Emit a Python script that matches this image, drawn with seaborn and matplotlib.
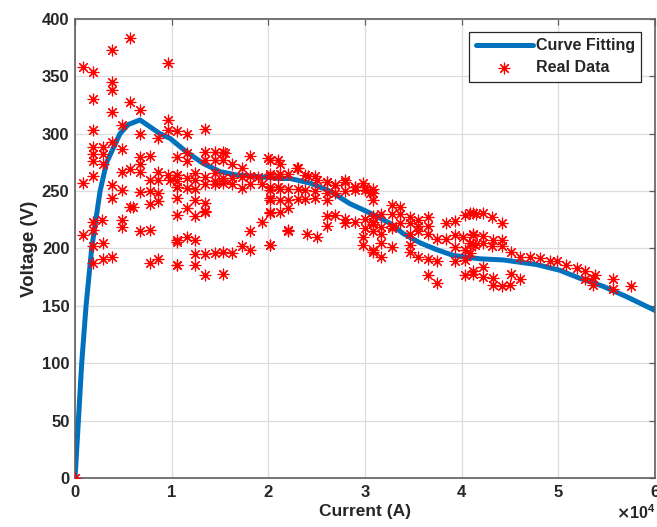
import matplotlib
matplotlib.use("Agg")
import matplotlib.pyplot as plt
import seaborn as sns

# ---- Fitted curve ----
fit_current = [0, 350, 690, 1140, 1720, 2590, 3270, 4650, 5500, 6720, 8790, 9820,
               11550, 13270, 14990, 16720, 18440, 21200, 22230, 24300, 26370, 28440,
               30500, 32570, 33950, 35670, 37400, 39120, 41880, 44290, 47740, 50150,
               52220, 54630, 57050, 60000]
fit_voltage = [0, 50, 100, 150, 200, 250, 275, 300, 308, 312, 300, 296,
               284, 274, 267, 264, 263, 261, 261, 257, 250, 239,
               231, 222, 213, 205, 199, 194, 191, 190, 186, 181,
               174, 167, 158, 146]

data_current = [
    0,
    5690, 3790, 860, 1890, 9580, 3790, 3790, 1890, 3790, 5690, 6720,
    4830, 9580, 1890, 6720, 9580, 10520, 8620, 3790, 4830,
    1890, 2930, 1890, 2930, 1890, 2930,
    860, 1890, 6720, 7760, 6720, 5690, 4830, 6720, 7760, 8620, 8620, 9580, 10520,
    3790, 4830, 3790, 6720, 7760, 8620, 7760, 8620, 10520, 5690, 6000,
    1890, 2760, 1890, 4830, 4830, 6720, 7760, 860, 1890, 2930, 10520,
    1890, 2930, 3790, 7760, 8620, 10520,
    11550, 13440,
    10520, 11550, 11550, 13440, 14480, 15330, 13440, 14480, 15330, 16200, 18100, 20160, 21020, 17240,
    10520, 12380, 14480,
    9820, 10520, 11550, 12410, 13440, 14480, 15330, 16200, 17240, 18100, 18950, 20160, 21020,
    10520, 11550, 12380, 13440, 14480, 15330, 16200, 17240, 18100, 19300, 20160, 21020,
    10520, 12380, 13440, 20160,
    11550, 13440,
    10520, 12380, 13440,
    20160, 19300, 18100,
    10520, 11550, 12380,
    20160, 17240, 18100,
    12380, 13440, 14480, 15330, 16200,
    10520, 12380,
    13440, 15330,
    15510, 19990, 22920, 24120, 24990, 26020, 26880, 27920, 28950, 29810, 30500,
    22050, 23960, 24990,
    21200, 23090,
    20160, 21200, 22050, 23780, 24820,
    26020, 26880, 27920, 28950, 29990, 30840,
    20160, 21200, 22050, 23090, 23780, 24820, 26020, 26880, 27920, 28950, 29990, 30840,
    20160, 21200, 22050, 23090, 23780, 24820, 26020,
    20160, 21200, 26020, 26880, 27920, 28950, 29990, 30840,
    22050,
    26020, 27920, 29990, 30840,
    22050,
    20160,
    29810, 29810, 30840,
    30840, 32750, 33600,
    31700, 32750, 33600, 34640, 35490, 36530,
    30840, 31700, 32750, 33600, 34640, 35490, 36530, 38420, 39290,
    40330, 41180,
    30840, 31700, 32750, 34640, 35490, 36530, 37400, 38420, 39290, 40160, 41180,
    31700, 32750, 34640, 39290, 40330, 41180,
    30840, 31700, 34640, 35490, 36530, 37400, 39290, 40330,
    36530, 37400,
    40330, 41180,
    40840, 41530, 42220, 43090, 44120,
    41180, 42220, 43250, 44120,
    40840, 41360, 42220, 43090, 44120,
    40840, 45150, 46010, 47050, 48080, 49120, 49810, 50840, 51880, 52730, 53770,
    41180, 42220, 42220, 43250, 43250, 44120, 44980, 45150, 46010,
    52730, 53590, 53590, 55660, 55660, 57560,
]
data_voltage = [
    0,
    383, 373, 358, 354, 362, 345, 338, 330, 319, 328, 321,
    308, 312, 303, 300, 303, 302, 296, 293, 287,
    288, 288, 282, 282, 276, 274,
    257, 263, 280, 281, 274, 269, 267, 267, 260, 267, 260, 264, 264,
    255, 251, 244, 249, 250, 248, 239, 241, 254, 236, 236,
    223, 225, 216, 225, 219, 215, 216, 212, 202, 205, 206,
    187, 191, 193, 187, 191, 186,
    300, 304,
    280, 283, 276, 284, 284, 284, 277, 277, 277, 274, 281, 277, 277, 270,
    264, 266, 266,
    260, 259, 261, 260, 262, 259, 261, 261, 262, 263, 262, 263, 263,
    254, 253, 252, 256, 256, 257, 256, 253, 256, 256, 254, 254,
    244, 242, 240, 244,
    235, 233,
    229, 228, 232,
    231, 223, 215,
    207, 210, 207,
    203, 202, 199,
    195, 195, 196, 197, 196,
    186, 186,
    177, 178,
    283, 279, 270, 263, 260, 258, 255, 260, 254, 257, 248,
    215, 213, 210,
    274, 270,
    265, 265, 265, 264, 263,
    258, 255, 258, 254, 254, 252,
    251, 252, 252, 252, 251, 250, 248, 248, 250, 251, 251, 248,
    242, 242, 242, 243, 243, 244, 242,
    232, 232, 228, 229, 226, 223, 226, 228,
    235,
    220, 222, 218, 221,
    216,
    203,
    210, 203, 197,
    242, 238, 236,
    230, 230, 230, 227, 225, 227,
    223, 219, 220, 222, 222, 220, 220, 222, 224,
    229, 231,
    215, 213, 218, 213, 215, 213, 208, 208, 212, 210, 212,
    205, 201, 203, 201, 199, 204,
    199, 193, 197, 193, 191, 189, 189, 190,
    177, 170,
    177, 178,
    231, 230, 231, 227, 222,
    213, 211, 207, 207,
    205, 203, 205, 202, 202,
    196, 197, 193, 193, 192, 189, 189, 186, 183, 180, 177,
    180, 184, 175, 174, 168, 167, 168, 178, 173,
    173, 174, 168, 173, 165, 167,
]

x_ticks = [0, 10000, 20000, 30000, 40000, 50000, 60000]
y_ticks = [0, 50, 100, 150, 200, 250, 300, 350, 400]

sns.set_theme(style="white")
plt.rcParams["font.family"] = ["Liberation Sans", "DejaVu Sans"]
plt.rcParams["font.weight"] = "bold"
plt.rcParams["axes.labelweight"] = "bold"

fig = plt.figure(figsize=(6.57, 5.27), dpi=100)
ax = fig.add_axes([0.1142, 0.093, 0.8828, 0.871])

sns.lineplot(x=fit_current, y=fit_voltage, sort=False, estimator=None,
             color="#0072BD", linewidth=3.6, ax=ax, label="Curve Fitting", zorder=2)
sns.scatterplot(x=data_current, y=data_voltage, marker=(8, 2, 0), color="red",
                edgecolor="red", s=60, linewidth=0.85, ax=ax, label="Real Data", zorder=3)

ax.set_xlim(0, 60000)
ax.set_ylim(0, 400)
ax.set_xticks(x_ticks)
ax.set_yticks(y_ticks)
ax.ticklabel_format(axis="x", style="sci", scilimits=(4, 4), useMathText=True)
ax.xaxis.get_offset_text().set_fontsize(11.5)
ax.xaxis.get_offset_text().set_color("#262626")

ax.grid(True, color="#dcdcdc", linewidth=0.9)
ax.set_axisbelow(True)
for sp in ax.spines.values():
    sp.set_color("#5e5e5e")
    sp.set_linewidth(1.2)
ax.tick_params(direction="in", top=True, right=True, length=4, width=0.9,
               color="#5e5e5e", labelsize=12, labelcolor="#262626", pad=4)

ax.set_xlabel("Current (A)", fontsize=12.5, color="#262626", labelpad=3)
ax.set_ylabel("Voltage (V)", fontsize=13.5, color="#262626", labelpad=3)

leg = ax.legend(loc="upper right", bbox_to_anchor=(0.976, 0.972), borderaxespad=0,
                fancybox=False, framealpha=1, edgecolor="#262626", fontsize=11.5,
                handlelength=3.6, handletextpad=0.15, labelspacing=0.45, borderpad=0.4)
leg.get_frame().set_linewidth(0.9)

fig.savefig("out.png", dpi=100)
